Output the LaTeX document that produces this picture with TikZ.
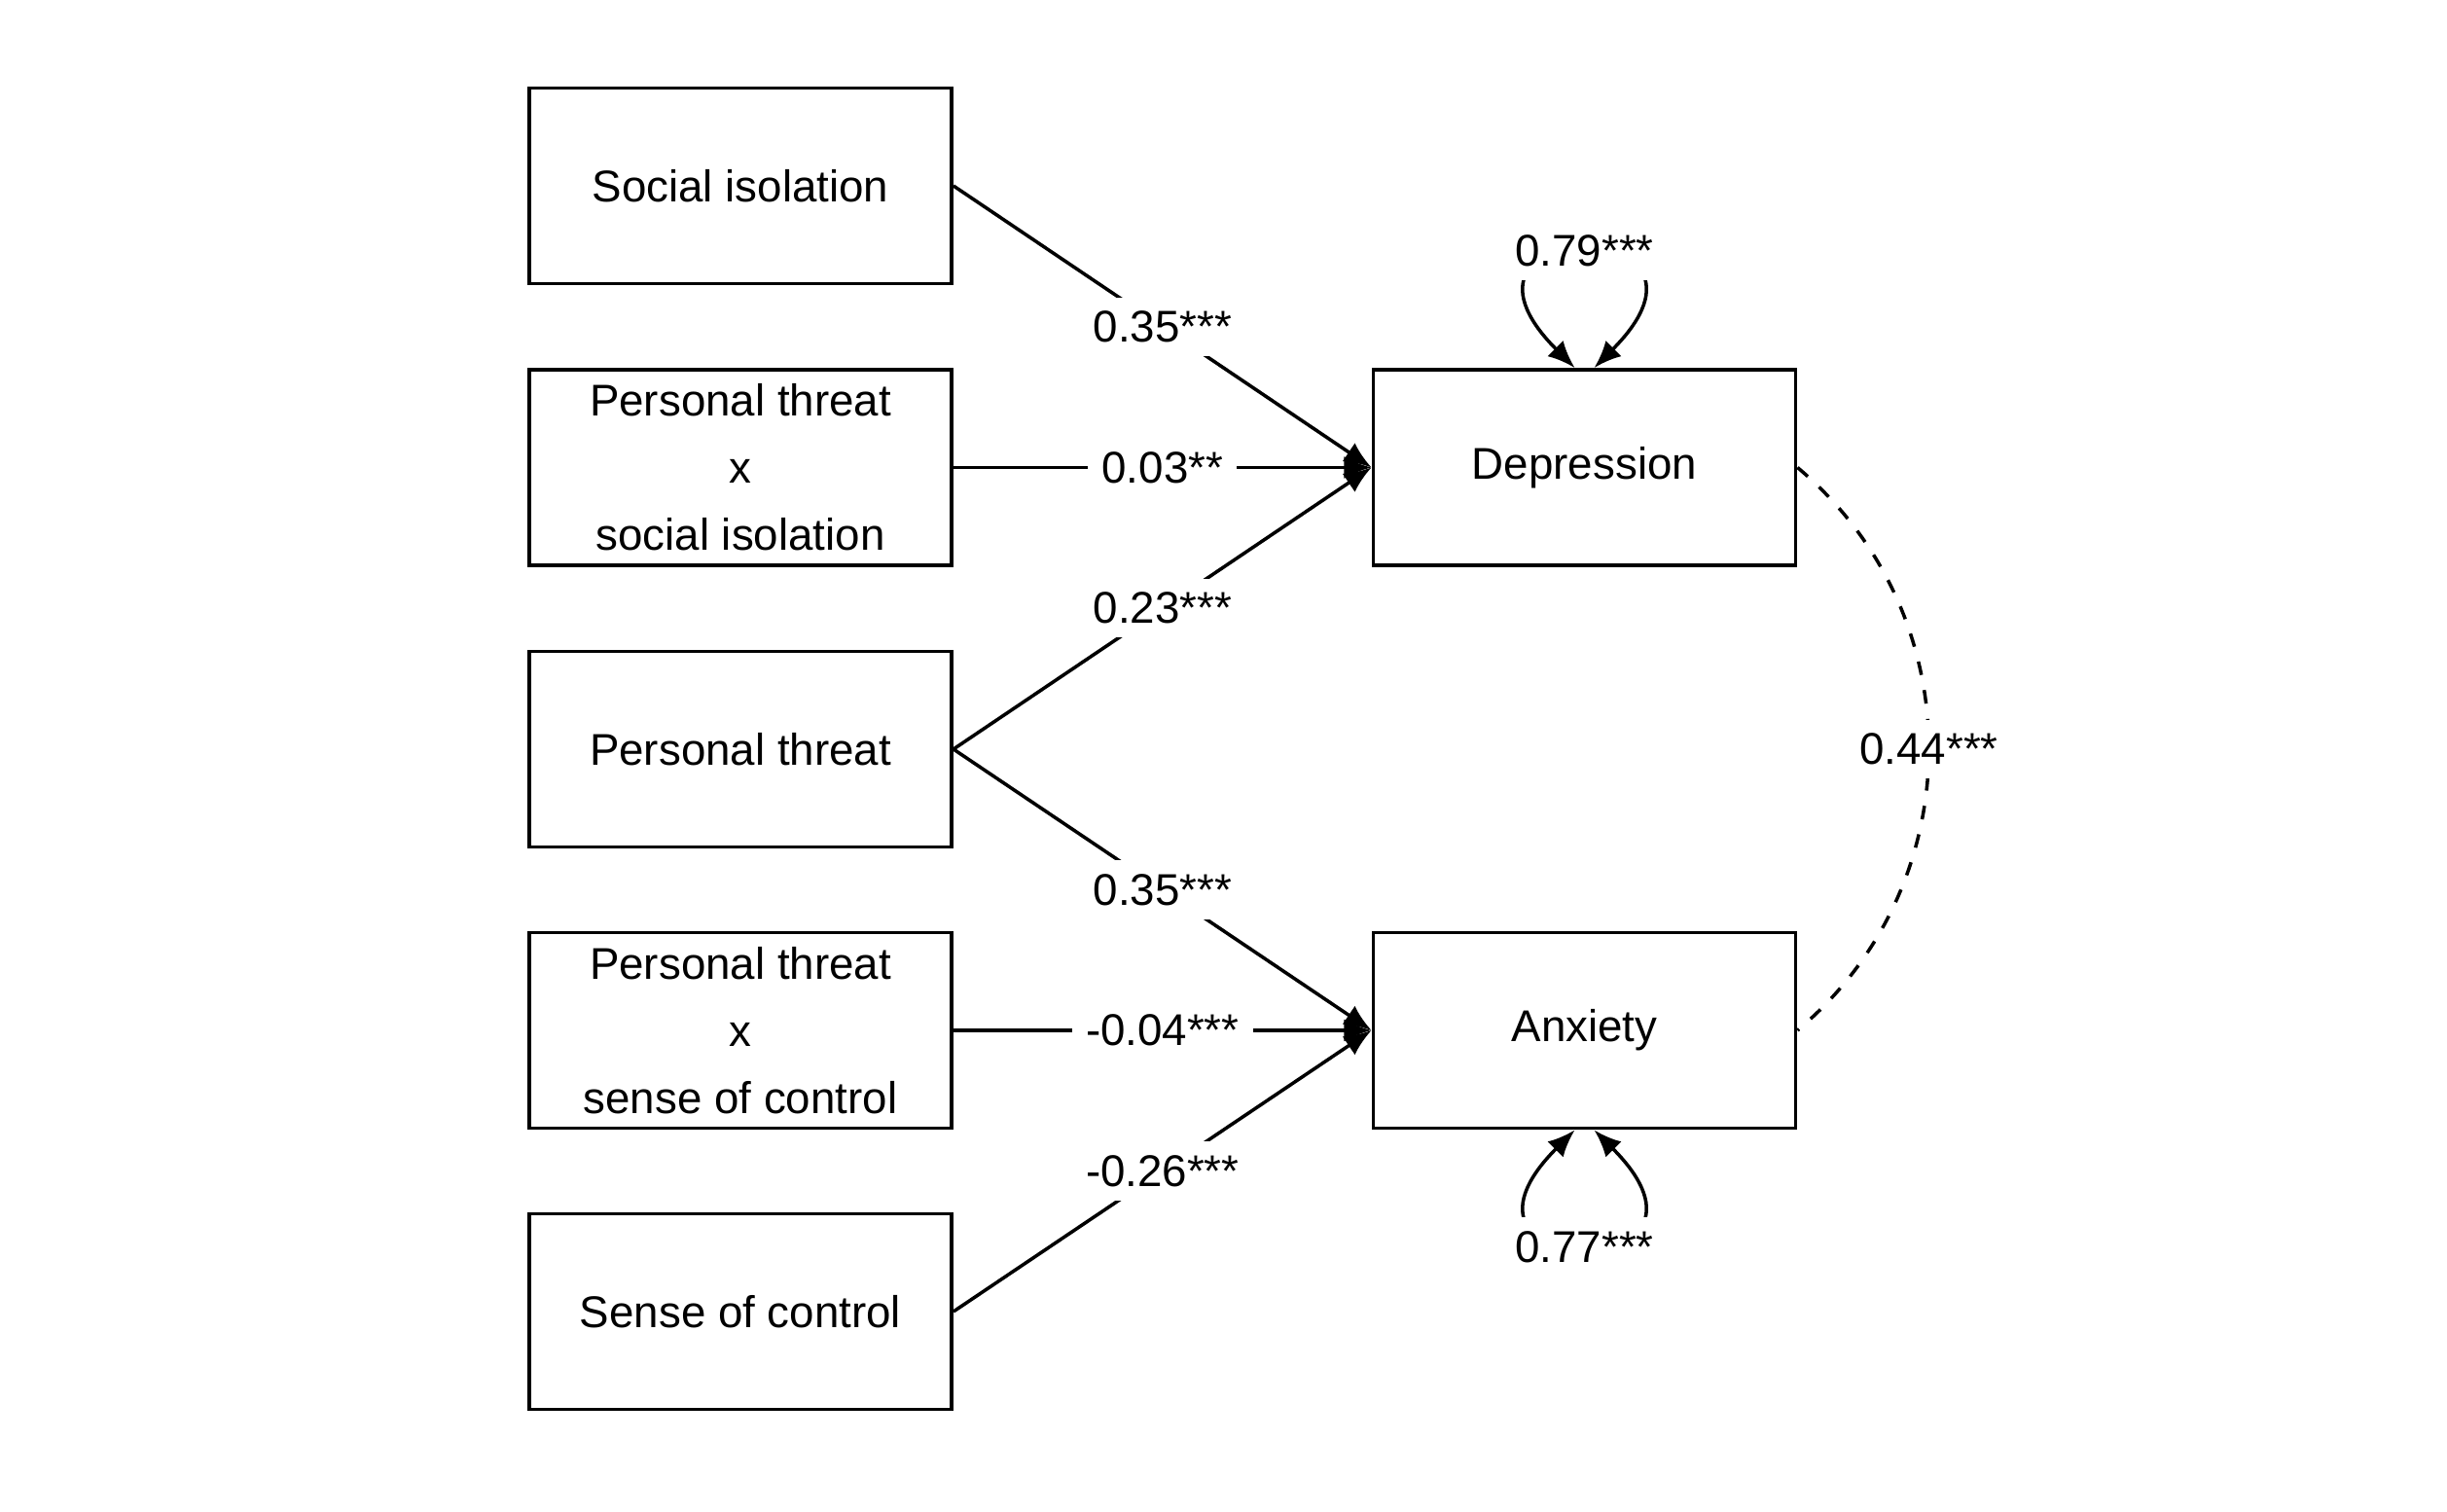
\documentclass[tikz,border=0pt]{standalone}
\usepackage{fontspec}
\setmainfont{Liberation Sans}
\usepackage{tikz}
\usetikzlibrary{arrows.meta}

\begin{document}
\begin{tikzpicture}[x=1cm, y=1cm, line width=1pt,
        >={Latex[length=8pt,width=6.5pt]},
        box/.style={rectangle, draw, line width=1.1pt, minimum width=4.34cm, minimum height=2.01cm, align=center, font=\fontsize{13}{19.6}\selectfont},
        coef/.style={fill=white, inner sep=4pt, font=\fontsize{13}{15.6}\selectfont},
        covline/.style={dash pattern=on 4pt off 4.5pt}]
        \useasboundingbox (0, 0) rectangle (25.15, 15.53);

        \node[box] at (7.61, 13.62) (iso) {Social isolation};
        \node[box] at (7.61, 10.725) (ptxiso) {Personal threat\\x\\social isolation};
        \node[box] at (7.61, 7.83) (pt) {Personal threat};
        \node[box] at (7.61, 4.94) (ptxctrl) {Personal threat\\x\\sense of control};
        \node[box] at (7.61, 2.05) (ctrl) {Sense of control};

        \node[box] at (16.285, 10.725) (dep) {Depression};
        \node[box] at (16.285, 4.94) (anx) {Anxiety};

        \path (iso.east) edge[->] node[coef] {0.35***} (dep.west);
        \path (ptxiso.east) edge[->] node[coef] {0.03**} (dep.west);
        \path (pt.east) edge[->] node[coef] {0.23***} (dep.west);
        \path (pt.east) edge[->] node[coef] {0.35***} (anx.west);
        \path (ptxctrl.east) edge[->] node[coef] {-0.04***} (anx.west);
        \path (ctrl.east) edge[->] node[coef] {-0.26***} (anx.west);

        % residual variances
        \draw[<->] ([xshift=-0.1cm]dep.north) .. controls +(135:2.26) and +(45:2.26) .. ([xshift=0.1cm]dep.north) node[coef, pos=0.5] {0.79***};
        \draw[<->] ([xshift=-0.1cm]anx.south) .. controls +(-135:2.26) and +(-45:2.26) .. ([xshift=0.1cm]anx.south) node[coef, pos=0.5] {0.77***};

        % covariance
        \draw[covline] (dep.east) .. controls +(-40:2.35) and +(40:2.35) .. (anx.east) node[coef, pos=0.5] {0.44***};
    \end{tikzpicture}
\end{document}
